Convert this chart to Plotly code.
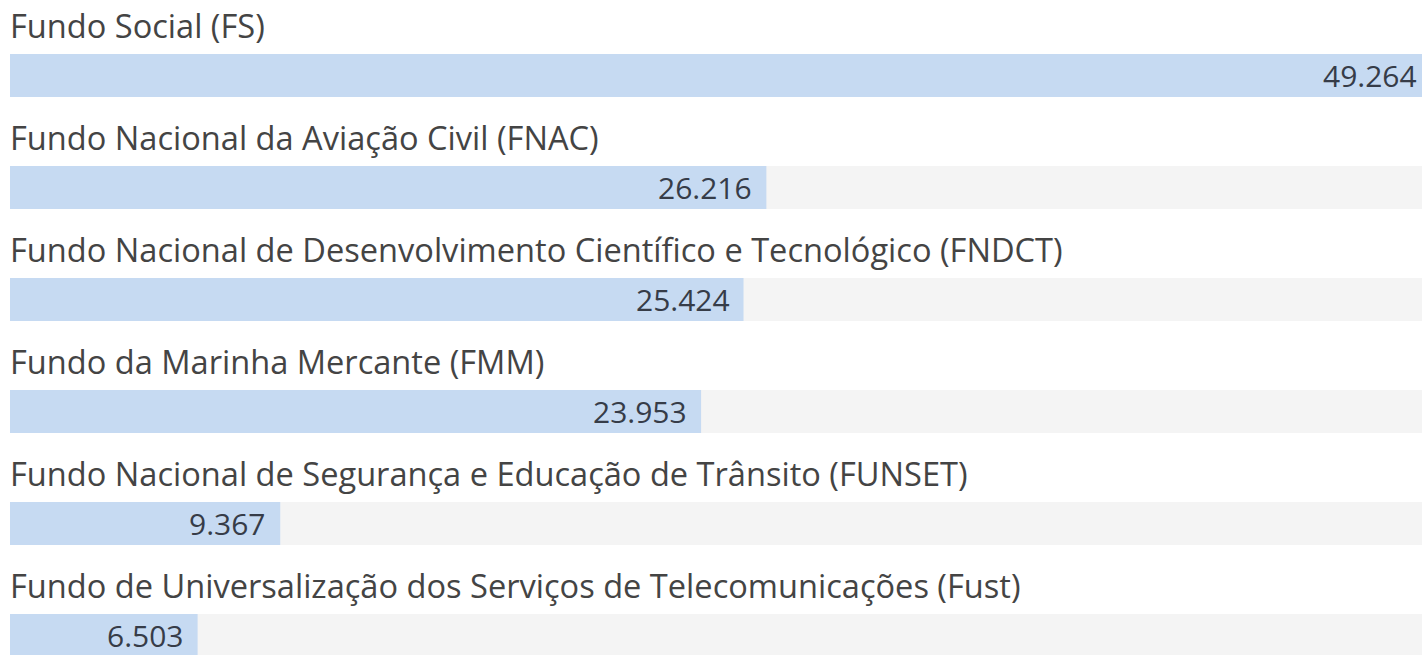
import plotly.graph_objects as go

categories = [
    "Fundo Social (FS)",
    "Fundo Nacional da Aviação Civil (FNAC)",
    "Fundo Nacional de Desenvolvimento Científico e Tecnológico (FNDCT)",
    "Fundo da Marinha Mercante (FMM)",
    "Fundo Nacional de Segurança e Educação de Trânsito (FUNSET)",
    "Fundo de Universalização dos Serviços de Telecomunicações (Fust)",
]
values = [49.264, 26.216, 25.424, 23.953, 9.367, 6.503]
value_labels = ["49.264", "26.216", "25.424", "23.953", "9.367", "6.503"]

rows = list(range(len(categories)))
track_max = max(values)

BAR_COLOR = "#c6daf2"
TRACK_COLOR = "#f4f4f4"
LABEL_COLOR = "#444444"
VALUE_COLOR = "#363c48"
FONT = "Open Sans"

fig = go.Figure()
fig.add_trace(go.Bar(
    x=[track_max] * len(rows), y=rows, orientation="h",
    marker=dict(color=TRACK_COLOR, line=dict(width=0)),
    width=0.384, hoverinfo="skip", showlegend=False,
))
fig.add_trace(go.Bar(
    x=values, y=rows, orientation="h",
    marker=dict(color=BAR_COLOR, line=dict(width=0)),
    width=0.384, hoverinfo="skip", showlegend=False,
))

annotations = []
for r, cat in zip(rows, categories):
    annotations.append(dict(
        x=0, y=r - 0.45, xref="x", yref="y", text=cat, showarrow=False,
        xanchor="left", yanchor="middle", xshift=-2,
        font=dict(family=FONT, size=32.6, color=LABEL_COLOR),
    ))
for r, v, lab in zip(rows, values, value_labels):
    annotations.append(dict(
        x=min(v, 48.9), y=r, xref="x", yref="y", text=lab, showarrow=False,
        xanchor="right", yanchor="middle",
        xshift=-12 if v < 48.9 else -2,
        font=dict(family=FONT, size=30, color=VALUE_COLOR),
    ))

fig.update_layout(
    width=1422, height=655,
    margin=dict(l=0, r=0, t=0, b=0),
    paper_bgcolor="white", plot_bgcolor="white",
    barmode="overlay",
    xaxis=dict(range=[-0.3466, 48.94], visible=False, fixedrange=True),
    yaxis=dict(range=[5.174, -0.674], visible=False, fixedrange=True),
    annotations=annotations,
)

fig.write_html("out.html")
